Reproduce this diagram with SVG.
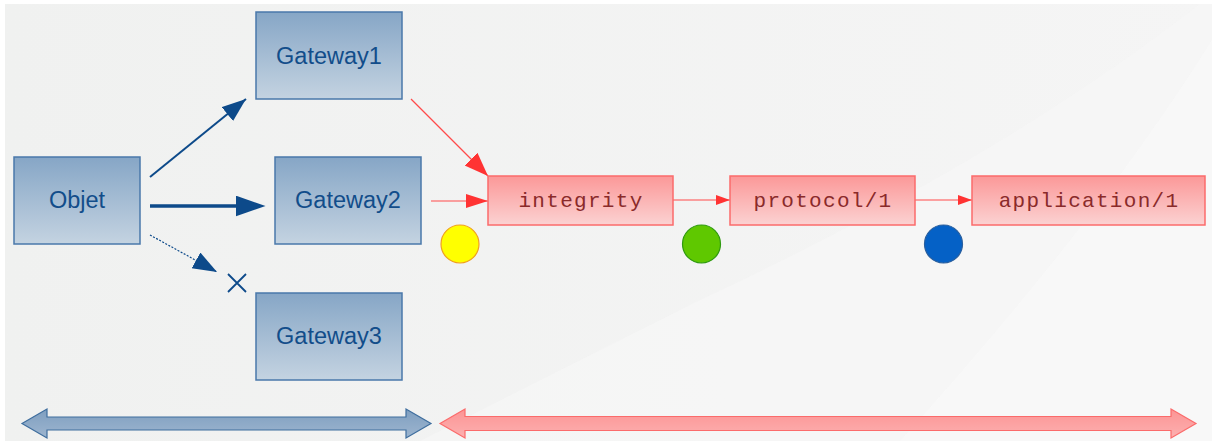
<svg xmlns="http://www.w3.org/2000/svg" width="1212" height="441" viewBox="0 0 1212 441">
  <style>
    .bbox { fill: url(#blueGrad); stroke: #4a78aa; stroke-width: 1.5; }
    .rbox { fill: url(#redGrad); stroke: #fb6b6b; stroke-width: 1.5; }
    .btxt { font-family: "Liberation Sans", Arial, sans-serif; font-size: 23.5px; fill: #124d8a; text-anchor: middle; }
    .rtxt { font-family: "Liberation Mono", "Courier New", monospace; font-size: 21px; letter-spacing: 1.3px; fill: #8a2a2a; text-anchor: middle; }
    .bline { stroke: #0d4a8a; fill: none; }
    .rline { stroke: #ff4a4a; fill: none; stroke-width: 1.2; }
  </style>
  <defs>
    <linearGradient id="blueGrad" x1="0" y1="0" x2="0" y2="1">
      <stop offset="0" stop-color="#86a6c6"/>
      <stop offset="1" stop-color="#c4d3e1"/>
    </linearGradient>
    <linearGradient id="redGrad" x1="0" y1="0" x2="0" y2="1">
      <stop offset="0" stop-color="#fb9898"/>
      <stop offset="1" stop-color="#fbd2d2"/>
    </linearGradient>
    <linearGradient id="bgGrad" x1="0" y1="0" x2="1" y2="0">
      <stop offset="0" stop-color="#f0f1f0"/>
      <stop offset="1" stop-color="#f5f5f5"/>
    </linearGradient>
    <linearGradient id="bArrGrad" x1="0" y1="0" x2="0" y2="1">
      <stop offset="0" stop-color="#7f9fc0"/>
      <stop offset="1" stop-color="#9db5cf"/>
    </linearGradient>
    <linearGradient id="rArrGrad" x1="0" y1="0" x2="0" y2="1">
      <stop offset="0" stop-color="#fc9494"/>
      <stop offset="1" stop-color="#fcb0b0"/>
    </linearGradient>
    <marker id="bHeadL" markerUnits="userSpaceOnUse" markerWidth="32" markerHeight="22" refX="0.5" refY="10.5" orient="auto">
      <path d="M0,0 L30,10.5 L0,21 z" fill="#0d4a8a"/>
    </marker>
    <marker id="bHeadM" markerUnits="userSpaceOnUse" markerWidth="26" markerHeight="20" refX="24" refY="9" orient="auto">
      <path d="M0,0 L24,9 L0,18 z" fill="#0d4a8a"/>
    </marker>
    <marker id="rHeadM" markerUnits="userSpaceOnUse" markerWidth="26" markerHeight="20" refX="24" refY="9" orient="auto">
      <path d="M0,0 L24,9 L0,18 z" fill="#ff3333"/>
    </marker>
    <marker id="rHead2" markerUnits="userSpaceOnUse" markerWidth="24" markerHeight="16" refX="22" refY="7" orient="auto">
      <path d="M0,0 L22,7 L0,14 z" fill="#ff3333"/>
    </marker>
    <marker id="rHeadS" markerUnits="userSpaceOnUse" markerWidth="16" markerHeight="12" refX="14" refY="5" orient="auto">
      <path d="M0,0 L14,5 L0,10 z" fill="#ff3333"/>
    </marker>
  </defs>

  <!-- background -->
  <rect x="0" y="0" width="1212" height="441" fill="#ffffff"/>
  <rect x="5" y="4" width="1207" height="437" fill="url(#bgGrad)"/>
  <path d="M1200,4 Q1000,160 700,300 Q560,370 420,441 L1212,441 L1212,4 Z" fill="#f7f7f7" opacity="0.7"/>
  <path d="M1212,40 Q1100,220 900,441 L1212,441 Z" fill="#f9f9f9" opacity="0.7"/>

  <!-- connectors -->
  <g id="connectors">
    <line class="bline" x1="150" y1="177" x2="246" y2="99" stroke-width="2" marker-end="url(#bHeadM)"/>
    <line class="bline" x1="150" y1="206" x2="236" y2="206" stroke-width="3.5" marker-end="url(#bHeadL)"/>
    <line class="bline" x1="150" y1="235" x2="217" y2="272" stroke-width="1.2" stroke-dasharray="2,1.5" marker-end="url(#bHeadM)"/>
    <path class="bline" d="M228,274 L246,292 M246,274 L228,292" stroke-width="1.8"/>
    <line class="rline" x1="411" y1="99" x2="488" y2="176" marker-end="url(#rHeadM)"/>
    <line class="rline" x1="431" y1="201" x2="488" y2="201" marker-end="url(#rHead2)"/>
    <line class="rline" x1="673" y1="200" x2="730" y2="200" marker-end="url(#rHeadS)"/>
    <line class="rline" x1="915" y1="200" x2="972" y2="200" marker-end="url(#rHeadS)"/>
  </g>

  <!-- nodes -->
  <g id="objet">
    <rect class="bbox" x="14" y="157" width="126" height="87"/>
    <text class="btxt" x="77" y="208">Objet</text>
  </g>
  <g id="gateway1">
    <rect class="bbox" x="256" y="12" width="146" height="87"/>
    <text class="btxt" x="329" y="64">Gateway1</text>
  </g>
  <g id="gateway2">
    <rect class="bbox" x="275" y="157" width="146" height="87"/>
    <text class="btxt" x="348" y="208">Gateway2</text>
  </g>
  <g id="gateway3">
    <rect class="bbox" x="256" y="293" width="146" height="87"/>
    <text class="btxt" x="329" y="344">Gateway3</text>
  </g>
  <g id="integrity">
    <rect class="rbox" x="488" y="176" width="185" height="49"/>
    <text class="rtxt" x="581" y="207">integrity</text>
  </g>
  <g id="protocol">
    <rect class="rbox" x="730" y="176" width="185" height="49"/>
    <text class="rtxt" x="823" y="207">protocol/1</text>
  </g>
  <g id="application">
    <rect class="rbox" x="972" y="176" width="233" height="49"/>
    <text class="rtxt" x="1089" y="207">application/1</text>
  </g>
  <g id="dot-yellow">
    <circle cx="460" cy="244" r="19" fill="#ffff00" stroke="#f0a020" stroke-width="1.2"/>
  </g>
  <g id="dot-green">
    <circle cx="701.5" cy="244" r="19" fill="#5fc800" stroke="#2f9a10" stroke-width="1.2"/>
  </g>
  <g id="dot-blue">
    <circle cx="943.5" cy="244" r="19" fill="#0561c6" stroke="#2a5f9e" stroke-width="1.2"/>
  </g>

  <!-- bottom span arrows -->
  <g id="span-blue">
    <path d="M22,423.5 L47,409 L47,417 L406,417 L406,409 L431,423.5 L406,438 L406,430 L47,430 L47,438 Z" fill="url(#bArrGrad)" stroke="#3f6e9e" stroke-width="1.2"/>
  </g>
  <g id="span-red">
    <path d="M440,423.5 L465,409 L465,416.5 L1171,416.5 L1171,409 L1196,423.5 L1171,438 L1171,430.5 L465,430.5 L465,438 Z" fill="url(#rArrGrad)" stroke="#fb6b6b" stroke-width="1.2"/>
  </g>
</svg>
